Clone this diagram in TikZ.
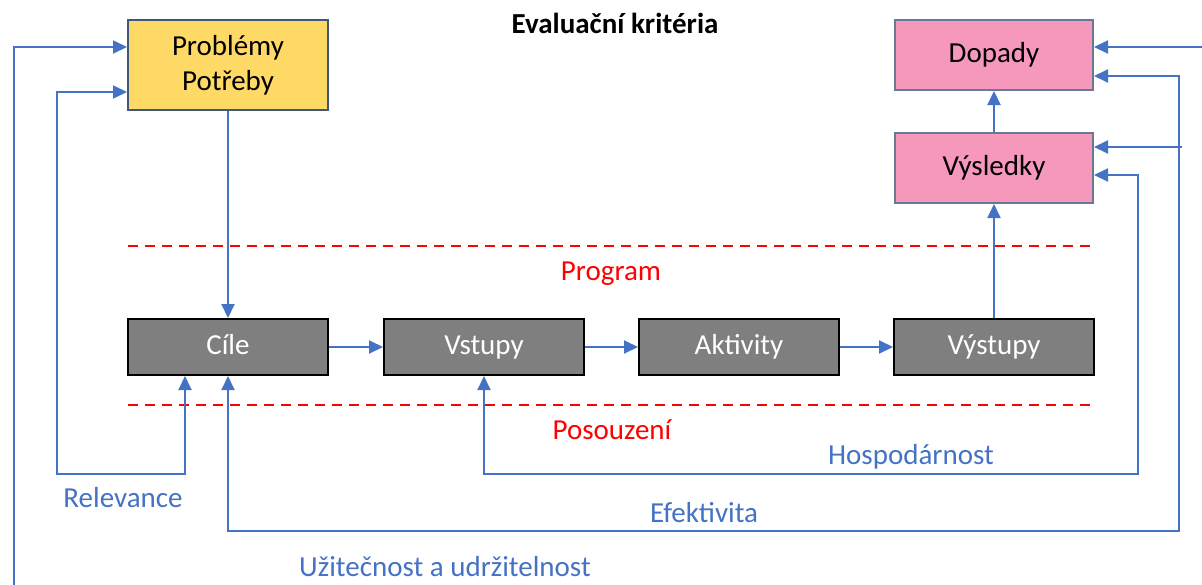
\documentclass[tikz,border=0pt]{standalone}
\usepackage{fontspec}
\setmainfont{Carlito}
\usetikzlibrary{arrows.meta}
\definecolor{flowblue}{HTML}{4472C4}
\definecolor{boxyellow}{HTML}{FFD966}
\definecolor{boxpink}{HTML}{F598BC}
\definecolor{boxgrey}{HTML}{7F7F7F}
\definecolor{edgeblue}{HTML}{41577A}
\tikzset{
  lbl/.style={font=\fontsize{29}{33}\selectfont, text height=20pt, text depth=6pt, inner sep=0pt},
  needbox/.style={draw=edgeblue, line width=2pt, fill=boxyellow, minimum width=200pt, minimum height=90pt,
    align=center, inner sep=0pt, font=\fontsize{29}{35}\selectfont},
  effectbox/.style={draw=edgeblue!80, line width=2pt, fill=boxpink, minimum width=198pt, minimum height=70pt,
    inner sep=0pt, text height=20pt, text depth=6pt, font=\fontsize{29}{33}\selectfont},
  stagebox/.style={draw=black, line width=2pt, fill=boxgrey, minimum width=200pt, minimum height=56pt,
    inner sep=0pt, text height=20pt, text depth=6pt, text=white, font=\fontsize{29}{33}\selectfont},
  flow/.style={draw=flowblue, line width=2pt, -{Triangle[length=14pt,width=13pt]}},
  twoway/.style={draw=flowblue, line width=2pt, {Triangle[length=14pt,width=13pt]}-{Triangle[length=14pt,width=13pt]}},
  border/.style={draw=red, line width=1.8pt, dash pattern=on 10pt off 7pt},
  crit/.style={lbl, text=flowblue},
  zone/.style={lbl, text=red},
}
\begin{document}
\begin{tikzpicture}[x=1pt,y=-1pt]
  \useasboundingbox (0,0) rectangle (1202,584);
  \clip (0,0) rectangle (1202,584);

  % title
  \node[font=\fontsize{29}{33}\selectfont\bfseries] (title) at (615,23) {Evaluační kritéria};

  % boxes
  \node[needbox] (prob) at (228,65) {Problémy\\Potřeby};
  \node[effectbox] (dop) at (994,55) {Dopady};
  \node[effectbox] (vysl) at (994,168) {Výsledky};
  \node[stagebox] (cile) at (228,347) {Cíle};
  \node[stagebox] (vst) at (484,347) {Vstupy};
  \node[stagebox] (akt) at (739,347) {Aktivity};
  \node[stagebox] (vyst) at (994,347) {Výstupy};

  % program boundaries
  \coordinate (b1l) at (128,246);
  \coordinate (b1r) at (1094,246);
  \coordinate (b2l) at (128,405);
  \coordinate (b2r) at (1094,405);
  \draw[border] (b1l) -- (b1r);
  \draw[border] (b2l) -- (b2r);
  \node[zone] (prog) at (611,273) {Program};
  \node[zone] (pos) at (612,432) {Posouzení};

  % program chain
  \draw[flow] (prob.south) -- (cile.north);
  \draw[flow] (cile) -- (vst);
  \draw[flow] (vst) -- (akt);
  \draw[flow] (akt) -- (vyst);
  \draw[flow] (vyst) -- (vysl);
  \draw[flow] (vysl) -- (dop);

  % relevance
  \coordinate (r1) at (57,92);
  \coordinate (r2) at (57,474);
  \coordinate (r3) at (185,474);
  \draw[twoway] (prob.west |- r1) -- (r1) -- (r2) -- (r3) -- (r3 |- cile.south);
  \node[crit] (trel) at (123,500) {Relevance};

  % economy
  \coordinate (h1) at (484,474);
  \coordinate (h2) at (1138,474);
  \coordinate (h3) at (1138,175);
  \draw[twoway] (vst.south) -- (h1) -- (h2) -- (h3) -- (vysl.east |- h3);
  \node[crit] (thosp) at (911,457) {Hospodárnost};

  % effectiveness
  \coordinate (e1) at (228,531);
  \coordinate (e2) at (1179,531);
  \coordinate (e3) at (1179,76);
  \coordinate (e4) at (1182,147);
  \draw[twoway] (cile.south) -- (e1) -- (e2) -- (e3) -- (dop.east |- e3);
  \draw[flow] (e4) -- (vysl.east |- e4);
  \node[crit] (tefek) at (704,515) {Efektivita};

  % utility and sustainability
  \coordinate (u1) at (14,47);
  \coordinate (u2) at (14,600);
  \coordinate (u3) at (1215,600);
  \coordinate (u4) at (1215,47);
  \draw[twoway] (prob.west |- u1) -- (u1) -- (u2) -- (u3) -- (u4) -- (dop.east |- u4);
  \node[crit] (tuzit) at (445,569) {Užitečnost a udržitelnost};
\end{tikzpicture}
\end{document}
